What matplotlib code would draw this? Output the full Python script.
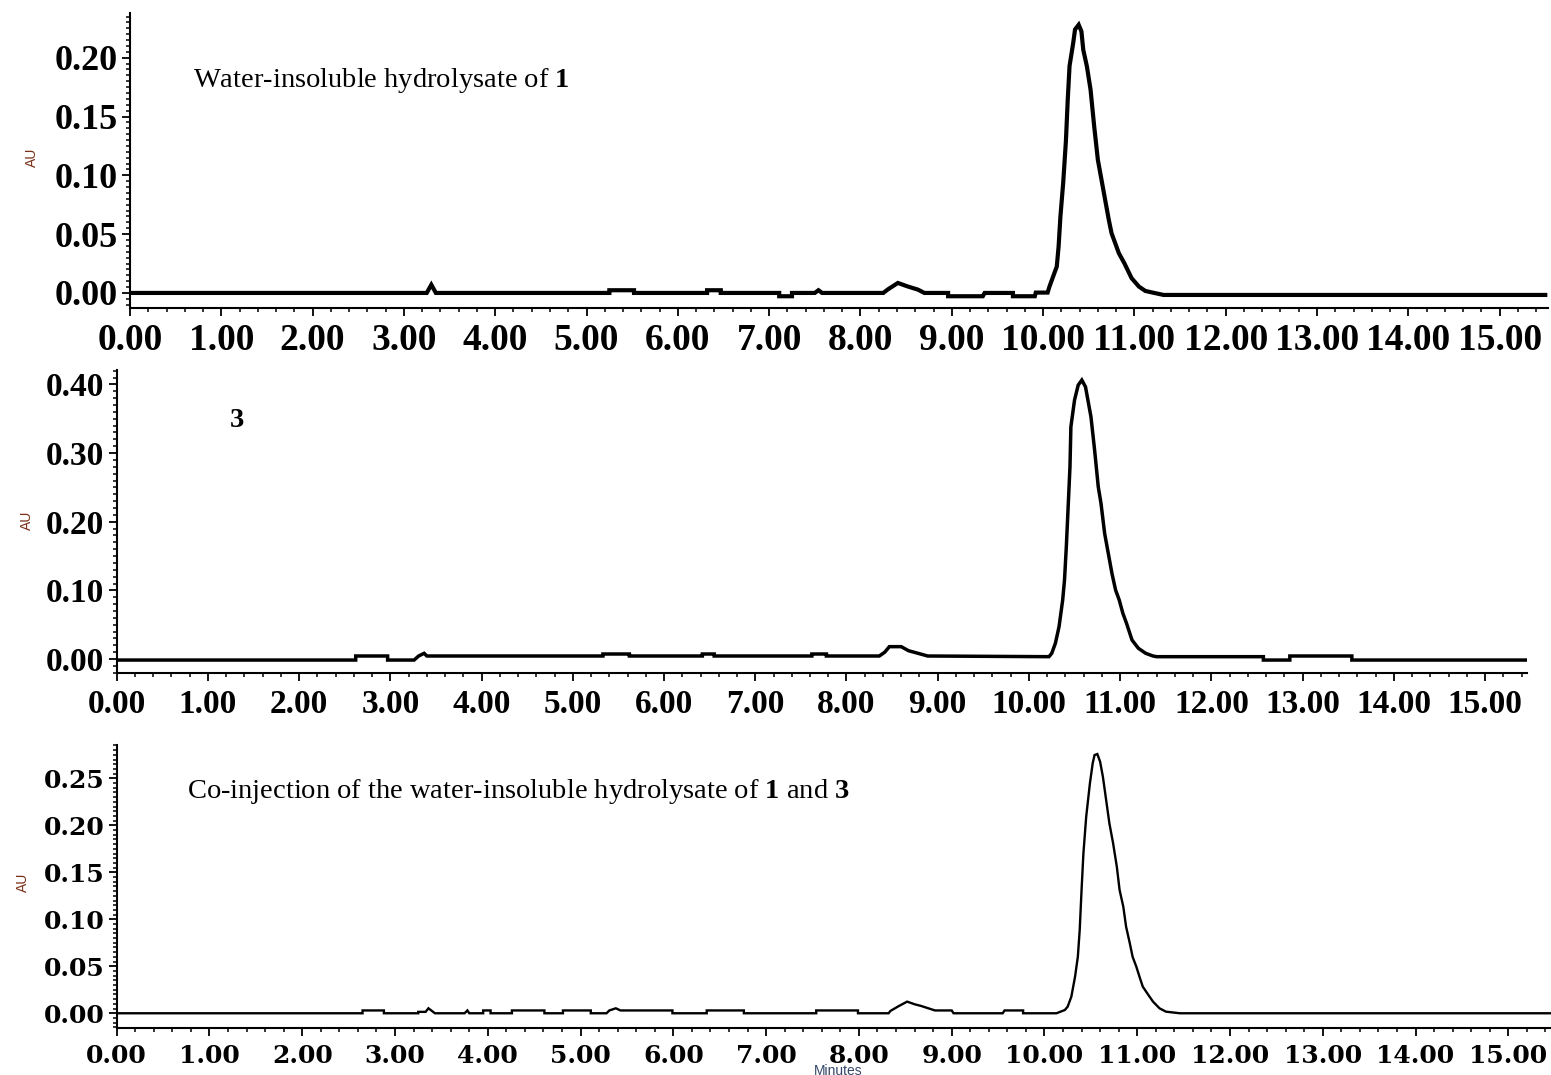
import matplotlib
matplotlib.use("Agg")
import matplotlib.pyplot as plt
from matplotlib.ticker import MultipleLocator, FormatStrFormatter

plt.rcParams['mathtext.fontset'] = 'custom'
plt.rcParams['mathtext.rm'] = 'Liberation Serif'
plt.rcParams['mathtext.bf'] = 'Liberation Serif:bold'

# trace 1: water-insoluble hydrolysate of 1 (minutes, AU)
t1 = [0.00, 3.25, 3.30, 3.35, 5.25, 5.25, 5.52, 5.52, 6.32, 6.32, 6.47, 6.47,
      7.11, 7.11, 7.25, 7.25, 7.50, 7.54, 7.58, 8.25, 8.30, 8.41, 8.51, 8.63, 8.70,
      8.96, 8.96, 9.34, 9.36, 9.67, 9.67, 9.91, 9.92, 10.05,
      10.07, 10.11, 10.15, 10.17, 10.19, 10.22, 10.25, 10.27, 10.29, 10.33, 10.35,
      10.39, 10.42, 10.44, 10.48, 10.52, 10.56, 10.60, 10.64, 10.68, 10.72, 10.75,
      10.79, 10.83, 10.89, 10.97, 11.05, 11.12, 11.20, 11.32, 15.50]
au1 = [0.0, 0.0, 0.007, 0.0, 0.0, 0.0023, 0.0023, 0.0, 0.0, 0.0023, 0.0023, 0.0,
       0.0, -0.0028, -0.0028, 0.0, 0.0, 0.0023, 0.0, 0.0, 0.003, 0.0085, 0.0057, 0.0028, 0.0,
       0.0, -0.0028, -0.0028, 0.0, 0.0, -0.0028, -0.0028, 0.0003, 0.0003,
       0.0054, 0.0139, 0.0224, 0.0394, 0.065, 0.0933, 0.129, 0.164, 0.193, 0.2125, 0.224,
       0.228, 0.2224, 0.2068, 0.1926, 0.1728, 0.1415, 0.1132, 0.0962, 0.0791, 0.0621, 0.0508,
       0.0423, 0.0338, 0.0253, 0.0125, 0.0054, 0.0017, 0.0003, -0.0017, -0.0017]

# trace 2: compound 3
t2 = [0.00, 2.62, 2.62, 2.97, 2.97, 3.26, 3.31, 3.37, 3.40, 5.33, 5.33, 5.62, 5.62,
      6.42, 6.42, 6.55, 6.55, 7.62, 7.62, 7.78, 7.78, 8.36, 8.42, 8.47, 8.60, 8.68,
      8.76, 8.89, 10.22,
      10.25, 10.29, 10.33, 10.37, 10.39, 10.41, 10.43, 10.45, 10.46, 10.50, 10.54,
      10.58, 10.62, 10.64, 10.68, 10.72, 10.76, 10.79, 10.83, 10.87, 10.91, 10.95,
      10.99, 11.03, 11.07, 11.13, 11.20, 11.28, 11.36, 11.40,
      12.57, 12.57, 12.86, 12.86, 13.54, 13.54, 15.47]
au2 = [-0.0015, -0.0015, 0.0044, 0.0044, -0.0015, -0.0015, 0.0044, 0.0083, 0.0044,
       0.0044, 0.0073, 0.0073, 0.0044, 0.0044, 0.0073, 0.0073, 0.0044, 0.0044, 0.0073,
       0.0073, 0.0044, 0.0044, 0.010, 0.018, 0.018, 0.0121, 0.0092, 0.0044, 0.0034,
       0.0083, 0.0229, 0.047, 0.0859, 0.115, 0.1636, 0.2218, 0.28, 0.3383, 0.3772, 0.399,
       0.4063, 0.3965, 0.382, 0.3528, 0.3044, 0.2509, 0.2267, 0.183, 0.1539, 0.1248, 0.1005,
       0.0859, 0.0665, 0.052, 0.0277, 0.0156, 0.0083, 0.0044, 0.0034,
       0.0034, -0.0015, -0.0015, 0.0044, 0.0044, -0.0015, -0.0015]

# trace 3: co-injection
t3 = [0.00, 2.65, 2.65, 2.88, 2.88, 3.25, 3.25, 3.33, 3.36, 3.43, 3.75, 3.78, 3.80,
      3.95, 3.95, 4.03, 4.03, 4.26, 4.26, 4.61, 4.61, 4.81, 4.81, 5.11, 5.11, 5.28,
      5.31, 5.38, 5.43, 5.99, 5.99, 6.36, 6.36, 6.76, 6.76, 7.54, 7.54, 7.99, 7.99,
      8.32, 8.34, 8.42, 8.52, 8.60, 8.67, 8.77, 8.82, 9.00, 9.02, 9.55, 9.57, 9.77,
      9.77, 10.13,
      10.22, 10.25, 10.29, 10.33, 10.36, 10.38, 10.40, 10.42, 10.45, 10.49, 10.52,
      10.54, 10.57, 10.60, 10.63, 10.67, 10.70, 10.74, 10.78, 10.81, 10.85, 10.88,
      10.92, 10.95, 10.99, 11.03, 11.06, 11.12, 11.17, 11.24, 11.31, 11.46, 15.47]
au3 = [0.0, 0.0, 0.003, 0.003, 0.0, 0.0, 0.0015, 0.0015, 0.0053, 0.0, 0.0, 0.003, 0.0,
       0.0, 0.003, 0.003, 0.0, 0.0, 0.003, 0.003, 0.0, 0.0, 0.003, 0.003, 0.0, 0.0,
       0.003, 0.0053, 0.003, 0.003, 0.0, 0.0, 0.003, 0.003, 0.0, 0.0, 0.003, 0.003, 0.0,
       0.0, 0.0025, 0.0071, 0.0124, 0.0096, 0.0078, 0.0046, 0.003, 0.003, 0.0, 0.0, 0.003,
       0.003, 0.0, 0.0,
       0.0035, 0.007, 0.0177, 0.039, 0.0602, 0.0886, 0.1312, 0.1702, 0.2092, 0.2447, 0.266,
       0.2748, 0.2759, 0.2677, 0.2517, 0.2234, 0.2021, 0.1809, 0.156, 0.1312, 0.1134, 0.0921,
       0.0745, 0.0602, 0.0496, 0.0372, 0.0283, 0.0195, 0.0124, 0.0053, 0.0017, 0.0, 0.0]

W, H = 1551, 1075
fig = plt.figure(figsize=(W / 100, H / 100), dpi=100)


def make_axes(left, top, right, bottom):
    return fig.add_axes([left / W, 1 - bottom / H, (right - left) / W, (bottom - top) / H])


def style(ax, xmax, ylim, ymajor, yminor, tickfont, xsize, ysize):
    ax.set_xlim(0, xmax)
    ax.set_ylim(*ylim)
    for s in ['top', 'right']:
        ax.spines[s].set_visible(False)
    for s in ['left', 'bottom']:
        ax.spines[s].set_linewidth(1.5)
    ax.xaxis.set_major_locator(MultipleLocator(1))
    ax.xaxis.set_minor_locator(MultipleLocator(0.2))
    ax.yaxis.set_major_locator(MultipleLocator(ymajor))
    ax.yaxis.set_minor_locator(MultipleLocator(yminor))
    ax.xaxis.set_major_formatter(FormatStrFormatter('%.2f'))
    ax.yaxis.set_major_formatter(FormatStrFormatter('%.2f'))
    ax.tick_params(which='major', direction='out', length=6, width=1.3)
    ax.tick_params(which='minor', direction='out', length=3, width=1.1)
    ax.tick_params(axis='x', which='major', pad=5)
    ax.tick_params(axis='y', which='major', pad=3)
    for lab in ax.get_xticklabels():
        lab.set_fontfamily(tickfont)
        lab.set_fontweight('bold')
        lab.set_fontsize(xsize)
    for lab in ax.get_yticklabels():
        lab.set_fontfamily(tickfont)
        lab.set_fontweight('bold')
        lab.set_fontsize(ysize)


ax1 = make_axes(130, 13, 1548, 308)
ax1.plot(t1, au1, color='black', lw=3.0, solid_joinstyle='miter')
style(ax1, 15.53, (-0.0128, 0.238), 0.05, 0.005, 'Liberation Serif', 27, 26)

ax2 = make_axes(116.7, 370, 1527, 673.3)
ax2.plot(t2, au2, color='black', lw=2.5, solid_joinstyle='miter')
style(ax2, 15.46, (-0.0208, 0.421), 0.10, 0.01, 'Liberation Serif', 24, 24)

ax3 = make_axes(116.7, 745, 1551, 1028.3)
ax3.plot(t3, au3, color='black', lw=1.7, solid_joinstyle='miter')
style(ax3, 15.46, (-0.016, 0.2855), 0.05, 0.005, 'DejaVu Serif', 18, 18)

for x, y in [(32, 157), (27, 520), (23, 882)]:
    fig.text(x / W, 1 - y / H, 'AU', rotation=90, ha='center', va='center',
             fontsize=10, color='#7a3018', family='Liberation Sans')

fig.text(838 / W, 1 - 1071 / H, 'Minutes', ha='center', va='center',
         fontsize=10, color='#34466a', family='Liberation Sans')

fig.text(193 / W, 1 - 87 / H, r'Water-insoluble hydrolysate of $\mathbf{1}$',
         family='Liberation Serif', fontsize=20.5, va='baseline')
fig.text(230 / W, 1 - 427 / H, '3', family='Liberation Serif', fontweight='bold',
         fontsize=20.5, va='baseline')
fig.text(187 / W, 1 - 798 / H,
         r'Co-injection of the water-insoluble hydrolysate of $\mathbf{1}$ and $\mathbf{3}$',
         family='Liberation Serif', fontsize=20.5, va='baseline')

fig.savefig('out.png', dpi=100)
